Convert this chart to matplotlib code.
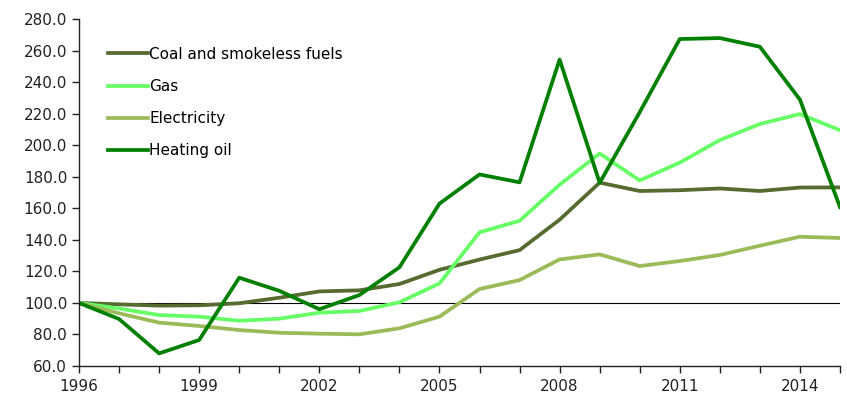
import numpy as np
import matplotlib.pyplot as plt

years = list(range(1996, 2016))
coal = [100, 99.1, 98.3, 98.5, 99.8, 103.3, 107.3, 108.0, 112.0, 121.0, 127.5, 133.5, 152.8,
        176.3, 171.0, 171.5, 172.6, 171.0, 173.2, 173.3]
gas = [100, 96.5, 92.3, 91.3, 88.7, 90.0, 93.8, 94.9, 100.4, 112.4, 144.8, 152.1, 175.0,
       194.8, 177.7, 189.0, 203.3, 213.5, 219.8, 209.6]
electricity = [100, 93.4, 87.5, 85.4, 82.8, 81.1, 80.5, 80.1, 83.9, 91.3, 108.8, 114.5, 127.6,
               130.8, 123.4, 126.6, 130.4, 136.3, 142.0, 141.2]
heating_oil = [100, 89.8, 68.0, 76.5, 116.0, 107.7, 96.0, 105.0, 122.6, 163.0, 181.5, 176.5, 254.4,
               176.2, 221.0, 267.4, 268.0, 262.5, 229.0, 160.8]

plt.rcParams['font.family'] = ['DejaVu Sans']

fig = plt.figure(figsize=(8.47, 3.99), dpi=100)
ax = fig.add_axes([0.0933, 0.0827, 0.8984, 0.8693])

ax.axhline(100, color='black', lw=0.8, zorder=1)
ax.plot(years, coal, color='#556B2F', lw=2.7, label='Coal and smokeless fuels')
ax.plot(years, gas, color='#66FF66', lw=2.7, label='Gas')
ax.plot(years, electricity, color='#9BBB59', lw=2.7, label='Electricity')
ax.plot(years, heating_oil, color='#008000', lw=2.7, label='Heating oil')

ax.set_xlim(1996, 2015)
ax.set_ylim(60, 280)
ax.set_yticks(np.arange(60, 281, 20))
ax.set_yticklabels(['%.1f' % v for v in np.arange(60, 281, 20)])
ax.set_xticks(years, minor=True)
ax.set_xticks(range(1996, 2016, 3))
ax.tick_params(axis='both', which='both', direction='out', length=5, width=1, labelsize=11, colors='#222222')
ax.tick_params(axis='x', which='major', pad=4)

for s in ['top', 'right']:
    ax.spines[s].set_visible(False)
for s in ['left', 'bottom']:
    ax.spines[s].set_color('#222222')
    ax.spines[s].set_linewidth(1)

ax.legend(loc='upper left', bbox_to_anchor=(0.02, 0.96), frameon=False, fontsize=11,
          handlelength=2.6, handletextpad=0.1, labelspacing=1.12)

fig.savefig('out.png', dpi=100)
